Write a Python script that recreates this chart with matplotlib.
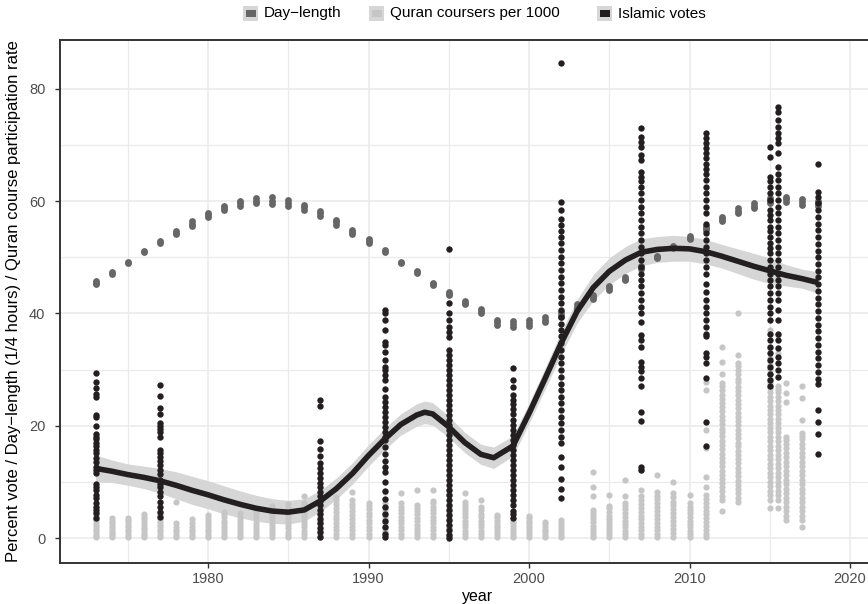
import numpy as np
import matplotlib
matplotlib.use("Agg")
import matplotlib.pyplot as plt
from matplotlib.patches import Rectangle

plt.rcParams['font.family'] = ['Liberation Sans', 'DejaVu Sans']

# ---------------- day-length during Ramadan (quarter hours) ----------------
day_years = list(range(1973, 2019))
day_values = [
    [45.3, 45.5, 45.8], [47.1, 47.3], [49.0, 49.2], [51.0, 51.2], [52.5, 52.9],
    [54.1, 54.4, 54.7], [55.6, 56.0, 56.4], [57.1, 57.5, 57.9], [58.4, 58.8, 59.2],
    [59.1, 59.6, 60.1], [59.6, 60.1, 60.5], [59.5, 60.1, 60.7], [59.2, 59.7, 60.2],
    [58.5, 58.9, 59.4], [57.4, 57.8, 58.2], [55.8, 56.2, 56.6], [54.2, 54.5, 54.8],
    [52.6, 52.9, 53.2], [51.0, 51.3], [48.9, 49.1], [47.2, 47.5], [45.1, 45.3, 45.5],
    [43.2, 43.5, 43.8], [41.6, 41.9, 42.3], [40.0, 40.4, 40.8], [37.9, 38.4, 38.9],
    [37.6, 38.1, 38.6], [37.8, 38.3, 38.8], [38.4, 38.9, 39.4], [39.4, 39.8, 40.3],
    [40.8, 41.2, 41.6], [42.6, 42.9, 43.2], [44.2, 44.5, 44.8], [46.0, 46.2, 46.4],
    [48.0, 48.2, 48.4], [49.9, 50.1, 50.3], [51.6, 51.8, 52.0], [53.2, 53.5, 53.8],
    [54.8, 55.2, 55.6], [56.4, 56.8, 57.2], [57.9, 58.3, 58.7], [58.8, 59.2, 59.6],
    [59.6, 60.1, 60.6], [59.8, 60.3, 60.8], [59.4, 59.9, 60.4], [59.1, 59.6, 60.1],
]

# ---------------- Quran course participants per 1000 ----------------
quran_years = list(range(1973, 2003)) + list(range(2004, 2014)) + [2015, 2015.5, 2016, 2017]
quran_values = [
    [0.1, 0.4, 0.8, 1.2, 1.6, 2.1, 2.5, 3.0, 3.4, 3.9, 4.5],
    [0.1, 0.5, 0.9, 1.3, 1.8, 2.2, 2.7, 3.1, 3.6],
    [0.2, 0.6, 1.0, 1.4, 1.9, 2.3, 2.8, 3.2, 3.6],
    [0.1, 0.5, 0.9, 1.4, 1.8, 2.3, 2.8, 3.3, 3.8, 4.3],
    [0.1, 0.5, 1.0, 1.4, 1.9, 2.4, 2.9, 3.4, 3.9, 4.3, 4.7],
    [0.2, 0.6, 1.0, 1.5, 2.0, 2.6, 6.5],
    [0.1, 0.5, 1.0, 1.5, 2.0, 2.6, 3.3],
    [0.2, 0.6, 1.0, 1.5, 2.0, 2.5, 3.0, 3.6, 4.1],
    [0.1, 0.6, 1.1, 1.6, 2.1, 2.6, 3.1, 3.7, 4.2, 4.7],
    [0.2, 0.6, 1.1, 1.6, 2.1, 2.7, 3.2, 3.8, 4.5],
    [0.1, 0.6, 1.1, 1.6, 2.2, 2.7, 3.3, 3.9, 4.5, 5.0],
    [0.2, 0.7, 1.2, 1.8, 2.3, 2.9, 3.5, 4.1, 4.7, 5.2, 5.7],
    [0.1, 0.6, 1.1, 1.7, 2.3, 2.9, 3.5, 4.1, 4.7, 5.3, 6.0],
    [0.2, 0.7, 1.3, 1.9, 2.5, 3.1, 3.7, 4.3, 4.9, 5.6, 6.2, 7.5],
    [0.1, 0.7, 1.3, 1.9, 2.5, 3.1, 3.8, 4.4, 5.0, 5.7, 6.3],
    [0.2, 0.8, 1.4, 2.0, 2.7, 3.3, 4.0, 4.7, 5.4, 6.1, 6.8, 7.3],
    [0.1, 0.7, 1.4, 2.0, 2.7, 3.4, 4.1, 4.8, 5.5, 6.1, 6.8, 8.2],
    [0.2, 0.8, 1.4, 2.0, 2.6, 3.2, 3.9, 4.5, 5.1, 5.7, 6.2],
    [0.1, 0.7, 1.3, 1.9, 2.6, 3.2, 3.8, 4.4, 5.0, 5.6, 6.2, 8.2],
    [0.2, 0.8, 1.4, 2.0, 2.6, 3.2, 3.8, 4.4, 5.0, 5.6, 6.2, 8.1],
    [0.1, 0.7, 1.3, 1.8, 2.4, 3.0, 3.6, 4.2, 4.8, 5.4, 5.9, 8.5],
    [0.2, 0.8, 1.4, 2.0, 2.6, 3.2, 3.8, 4.4, 5.0, 5.6, 6.2, 6.6, 8.5],
    [0.1, 0.7, 1.2, 1.8, 2.4, 3.0, 3.6, 4.2, 4.8, 5.6, 7.8, 8.5],
    [0.2, 0.8, 1.3, 1.9, 2.5, 3.1, 3.7, 4.3, 4.9, 5.4, 5.9, 6.4, 8.1],
    [0.1, 0.7, 1.3, 1.9, 2.5, 3.1, 3.7, 4.3, 5.0, 5.6, 6.8],
    [0.2, 0.7, 1.2, 1.7, 2.2, 2.7, 3.2, 3.7, 4.1],
    [0.1, 0.6, 1.1, 1.6, 2.1, 2.6, 3.1, 3.5],
    [0.2, 0.7, 1.2, 1.7, 2.2, 2.7, 3.1, 3.5, 4.0],
    [0.1, 0.6, 1.0, 1.5, 2.0, 2.5, 2.9],
    [0.2, 0.6, 1.1, 1.6, 2.1, 2.7, 3.2],
    [0.1, 0.6, 1.1, 1.6, 2.2, 2.8, 3.4, 3.9, 4.5, 5.0, 7.5, 9.1, 11.8],
    [0.2, 0.7, 1.2, 1.7, 2.3, 2.8, 3.4, 4.0, 4.6, 5.3, 5.7, 7.7],
    [0.1, 0.7, 1.3, 1.9, 2.5, 3.1, 3.7, 4.4, 5.1, 5.7, 6.3, 7.4, 10.3],
    [0.2, 0.8, 1.4, 2.0, 2.7, 3.3, 4.0, 4.7, 5.4, 6.1, 6.8, 7.4, 8.5, 12.1],
    [0.1, 0.7, 1.4, 2.0, 2.7, 3.4, 4.1, 4.8, 5.5, 6.2, 6.9, 7.4, 8.2, 11.2],
    [0.2, 0.9, 1.6, 2.3, 3.0, 3.7, 4.4, 5.1, 5.8, 6.5, 7.3, 8.0, 10.0],
    [0.1, 0.7, 1.3, 1.9, 2.5, 3.1, 3.8, 4.4, 5.0, 5.6, 6.2, 7.7],
    [0.1, 0.7, 1.4, 2.1, 2.8, 3.5, 4.2, 4.9, 5.6, 6.3, 7.0, 7.7, 9.1, 10.9,
     16.0, 19.2, 26.4, 27.8],
    [4.8, 6.8, 7.5, 8.3, 9.0, 9.8, 10.6, 11.3, 12.0, 12.8, 13.6, 14.3, 15.0,
     15.8, 16.5, 17.3, 18.1, 18.8, 19.5, 20.3, 21.0, 21.8, 22.6, 23.3, 24.0,
     24.8, 25.5, 26.3, 27.0, 27.6, 29.2, 31.4, 34.1],
    [6.5, 7.2, 8.0, 8.7, 9.5, 10.2, 11.0, 11.8, 12.5, 13.3, 14.0, 14.8, 15.5,
     16.3, 17.0, 17.8, 18.6, 19.3, 20.1, 20.8, 21.6, 22.3, 23.1, 23.9, 24.6,
     25.4, 26.1, 26.9, 27.7, 28.4, 29.2, 30.0, 30.6, 31.2, 32.6, 40.0],
    [5.3, 6.8, 7.6, 8.4, 9.2, 10.0, 10.8, 11.6, 12.4, 13.2, 14.0, 14.8, 15.6,
     16.4, 17.2, 18.0, 18.8, 19.6, 20.4, 21.2, 22.0, 22.8, 23.6, 24.4, 25.2,
     26.0, 26.8, 27.6, 28.4, 29.2, 30.0, 30.8, 31.5, 32.0, 33.8, 37.0],
    [5.3, 6.8, 7.6, 8.4, 9.2, 10.0, 10.8, 11.6, 12.4, 13.2, 14.0, 14.8, 15.6,
     16.4, 17.2, 18.0, 18.8, 19.6, 20.4, 21.2, 22.0, 22.8, 23.6, 24.4, 25.2,
     26.0, 26.6, 27.0, 33.0, 36.2],
    [3.2, 4.0, 4.8, 5.6, 6.4, 7.2, 8.0, 8.8, 9.6, 10.4, 11.2, 12.0, 12.8,
     13.6, 14.4, 15.2, 16.0, 16.8, 17.5, 18.0, 24.3, 25.8, 27.6],
    [2.0, 3.2, 4.0, 4.8, 5.6, 6.4, 7.2, 8.0, 8.8, 9.6, 10.4, 11.2, 12.0,
     12.8, 13.6, 14.4, 15.2, 16.0, 16.8, 17.6, 18.2, 18.7, 21.0, 24.9, 27.0],
]

# ---------------- Islamic party vote share by province ----------------
vote_years = [1973, 1977, 1987, 1991, 1995, 1999, 2002, 2007, 2011, 2015, 2015.5, 2018]
vote_values = [
    [29.4, 27.7, 26.8, 25.6, 25.2, 21.9, 21.6, 19.9, 18.6, 18.0, 17.6, 16.9,
     16.3, 15.7, 15.1, 14.2, 13.6, 12.7, 12.1, 11.5, 9.7, 9.1, 8.5, 7.7, 7.1,
     6.2, 5.6, 5.0, 4.4, 3.6],
    [27.2, 25.3, 23.2, 22.0, 20.5, 19.9, 19.4, 18.8, 18.0, 15.7, 15.1, 14.5,
     13.8, 13.0, 12.1, 11.4, 10.3, 9.7, 9.0, 8.2, 7.4, 6.5, 5.6, 4.7, 3.8],
    [24.5, 23.6, 17.2, 15.9, 14.6, 13.4, 12.5, 11.6, 10.7, 9.8, 9.0, 8.2, 7.4,
     6.6, 5.8, 5.0, 4.2, 3.4, 2.6, 1.8, 1.0, 0.2],
    [40.6, 40.0, 38.8, 37.0, 35.0, 34.4, 33.2, 31.7, 30.5, 29.9, 29.0, 28.1,
     26.6, 25.2, 24.3, 23.4, 22.5, 21.6, 20.7, 19.8, 18.9, 18.0, 17.4, 16.2,
     15.0, 13.8, 12.6, 11.7, 9.9, 8.4, 6.9, 5.5, 4.3, 3.1, 1.9, 0.7, 0.1],
    [51.5, 41.8, 40.0, 38.8, 37.6, 36.7, 35.8, 33.5, 32.6, 31.7, 30.8, 29.9,
     29.0, 28.1, 27.2, 26.4, 25.5, 24.6, 23.7, 22.8, 21.9, 21.0, 20.1, 19.2,
     18.3, 17.5, 16.6, 15.7, 14.8, 13.9, 13.0, 12.1, 11.2, 10.3, 9.4, 8.5, 7.6,
     6.8, 5.9, 5.0, 4.1, 3.2, 2.3, 1.4, 0.5, 0.0],
    [30.2, 28.2, 26.9, 25.4, 24.6, 23.8, 22.9, 22.0, 21.1, 20.2, 19.3, 18.4,
     17.5, 16.6, 15.7, 14.8, 13.9, 13.0, 12.1, 11.2, 10.3, 9.4, 8.5, 7.6, 6.7,
     5.8, 4.9, 4.2, 3.5],
    [84.6, 59.9, 58.4, 56.9, 55.8, 54.6, 53.7, 52.5, 51.3, 50.1, 48.9, 47.7,
     46.5, 45.4, 44.2, 43.0, 41.8, 40.6, 39.4, 38.2, 37.0, 35.9, 34.7, 33.5,
     32.3, 31.1, 29.9, 28.7, 27.5, 26.4, 25.2, 24.0, 22.8, 21.6, 20.4, 19.2,
     18.0, 16.9, 14.5, 12.7, 10.6, 8.8, 7.1],
    [73.0, 71.5, 70.6, 69.7, 68.2, 67.3, 65.2, 64.3, 63.5, 62.6, 61.4, 60.2,
     59.0, 57.8, 56.6, 55.4, 54.3, 53.1, 51.9, 50.7, 49.5, 48.3, 47.1, 45.9,
     44.8, 43.6, 42.4, 41.2, 40.0, 38.5, 36.2, 35.3, 34.1, 31.4, 30.5, 29.7,
     28.5, 27.0, 22.5, 20.9, 12.7, 12.1],
    [72.1, 71.2, 70.3, 69.4, 68.5, 67.6, 66.7, 65.8, 64.9, 63.7, 62.6, 61.4,
     60.2, 59.0, 57.8, 56.0, 54.3, 53.1, 51.9, 50.7, 49.5, 48.3, 47.1, 45.3,
     43.9, 42.4, 41.2, 40.0, 38.8, 37.6, 36.4, 35.9, 32.9, 32.3, 31.1, 28.5,
     20.7, 16.3],
    [69.7, 67.9, 64.3, 63.5, 62.6, 61.4, 60.2, 58.4, 57.5, 56.6, 55.4, 54.6,
     53.7, 52.5, 51.6, 50.7, 49.5, 48.3, 47.1, 45.9, 44.8, 43.6, 42.4, 41.2,
     40.0, 38.8, 36.4, 35.3, 34.1, 32.9, 31.7, 30.5, 29.3, 28.1, 27.0],
    [76.8, 75.9, 74.4, 73.2, 72.1, 71.2, 70.3, 68.5, 66.1, 64.9, 63.7, 62.6,
     61.4, 60.2, 59.0, 57.8, 56.6, 55.4, 54.3, 53.1, 51.9, 50.7, 49.5, 48.3,
     47.1, 45.9, 44.8, 43.6, 42.4, 40.6, 38.8, 36.4, 35.3, 33.8, 32.3, 31.1,
     29.9, 28.7],
    [66.7, 61.7, 60.8, 59.6, 58.4, 57.2, 56.0, 54.8, 53.6, 52.4, 51.2, 50.0,
     48.8, 47.6, 46.4, 45.2, 44.0, 42.8, 41.6, 40.4, 39.2, 38.0, 36.8, 35.6,
     34.4, 33.2, 32.0, 30.8, 29.6, 28.4, 27.5, 22.8, 20.7, 18.6, 15.0],
]

# smoothed vote trend and its confidence half-width
smooth_years = [1973, 1974, 1975, 1976, 1977, 1978, 1979, 1980, 1981, 1982,
                1983, 1984, 1985, 1986, 1987, 1988, 1989, 1990, 1991, 1992,
                1993, 1993.5, 1994, 1995, 1996, 1997, 1997.8, 1999, 2000, 2001,
                2002, 2003, 2004, 2005, 2006, 2007, 2008, 2009, 2010, 2011,
                2012, 2013, 2014, 2015, 2016, 2017, 2018]
smooth_fit = [12.4, 11.9, 11.3, 10.8, 10.2, 9.4, 8.5, 7.7, 6.8, 6.0,
              5.3, 4.8, 4.6, 5.0, 6.6, 8.8, 11.5, 14.7, 17.6, 20.2,
              21.9, 22.4, 22.1, 19.8, 17.0, 14.9, 14.3, 16.4, 22.2, 28.4,
              34.7, 40.4, 44.6, 47.5, 49.5, 50.9, 51.4, 51.6, 51.5, 51.0,
              50.2, 49.3, 48.4, 47.6, 46.8, 46.2, 45.5]
smooth_se = [2.4, 2.0, 1.9, 2.0, 2.2, 2.4, 2.5, 2.5, 2.5, 2.4,
             2.3, 2.2, 2.1, 2.0, 1.9, 1.9, 1.9, 1.9, 1.9, 1.9,
             2.0, 2.0, 2.0, 1.9, 1.8, 1.8, 1.9, 1.8, 1.8, 1.9,
             2.0, 2.1, 2.3, 2.4, 2.4, 2.4, 2.3, 2.3, 2.2, 2.2,
             2.1, 2.2, 2.3, 2.3, 1.9, 1.7, 1.9]

series_labels = ['Day\u2212length', 'Quran coursers per 1000', 'Islamic votes']
day_col = '#666666'
quran_col = '#c6c6c6'
vote_col = '#231f20'
band_col = '#d6d6d7'


def flatten(years, values):
    xs = np.repeat(years, [len(v) for v in values])
    ys = np.concatenate([np.asarray(v, float) for v in values])
    return xs, ys


W, H = 868, 604
fig = plt.figure(figsize=(W / 100, H / 100), dpi=100)
ax = fig.add_axes([60 / W, 41 / H, 835 / W, 523 / H])

lo = np.array(smooth_fit) - np.array(smooth_se)
hi = np.array(smooth_fit) + np.array(smooth_se)
ax.fill_between(smooth_years, lo, hi, color=band_col, lw=0, zorder=2)

x, y = flatten(quran_years, quran_values)
ax.scatter(x, y, s=20, color=quran_col, lw=0, zorder=3)
x, y = flatten(day_years, day_values)
ax.scatter(x, y, s=24, color=day_col, lw=0, zorder=3)
x, y = flatten(vote_years, vote_values)
ax.scatter(x, y, s=21, color=vote_col, lw=0, zorder=4)

ax.plot(smooth_years, smooth_fit, color=vote_col, lw=4, solid_capstyle='butt', zorder=5)

ax.set_xlim(1970.78, 2022.8)
ax.set_ylim(-4.45, 88.7)
ax.set_xticks([1980, 1990, 2000, 2010, 2020])
ax.set_xticks([1975, 1985, 1995, 2005, 2015], minor=True)
ax.set_yticks([0, 20, 40, 60, 80])
ax.set_yticks([10, 30, 50, 70], minor=True)
ax.grid(which='major', color='#ebebeb', lw=1.2, zorder=0)
ax.grid(which='minor', color='#ebebeb', lw=0.9, zorder=0)
ax.set_axisbelow(True)
ax.tick_params(which='major', length=3.5, width=1, color='#333333',
               labelsize=10.5, labelcolor='#4d4d4d')
ax.tick_params(axis='x', which='major', pad=3)
ax.tick_params(axis='y', which='major', pad=7)
ax.tick_params(which='minor', length=0)
for sp in ax.spines.values():
    sp.set_color('#333333')
    sp.set_linewidth(1.4)

ax.set_xlabel('year', fontsize=11.5, labelpad=2)
ax.set_ylabel('Percent vote / Day\u2212length (1/4 hours) / Quran course participation rate',
              fontsize=12, labelpad=6)

# legend row above the panel: grey key square with a short bar of the series colour
key_left = [243, 369, 597]
for kx, lab, c in zip(key_left, series_labels, [day_col, quran_col, vote_col]):
    fig.patches.append(Rectangle((kx / W, 1 - 21 / H), 15 / W, 15 / H,
                                 transform=fig.transFigure, facecolor=band_col,
                                 edgecolor='none'))
    fig.patches.append(Rectangle(((kx + 3) / W, 1 - 16.5 / H), 10 / W, 6 / H,
                                 transform=fig.transFigure, facecolor=c,
                                 edgecolor='none'))
    fig.text((kx + 21) / W, 1 - 13.5 / H, lab, fontsize=11, va='center',
             ha='left', color='black')

fig.savefig('out.png', dpi=100)
